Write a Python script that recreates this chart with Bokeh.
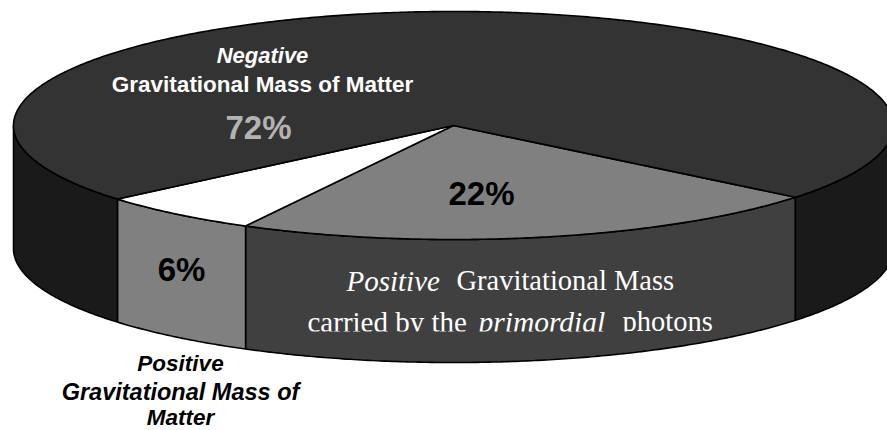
import numpy as np
from bokeh.plotting import figure
from bokeh.models import Range1d
from bokeh.core.properties import value
from bokeh.embed import file_html
from bokeh.resources import INLINE

# ---- data
slice_names = ["Positive photons", "Positive matter", "Negative matter"]
slice_values = [22, 6, 72]
top_colors = ["#808080", "#ffffff", "#333333"]
side_colors = ["#404040", "#808080", "#1a1a1a"]

# ---- pie geometry (screen pixels)
CX, CY, RX, RY, DEPTH = 453.0, 125.0, 440.0, 114.0, 123.0
START_DEG = 39.0

p = figure(width=887, height=430, output_backend="svg", toolbar_location=None,
           x_range=Range1d(0, 887), y_range=Range1d(430, 0),
           min_border=0, margin=(0, 0, 0, 0))
p.axis.visible = False
p.grid.visible = False
p.outline_line_color = None
p.background_fill_color = "#ffffff"
p.border_fill_color = "#ffffff"


def arc(a0, a1):
    t = np.radians(np.linspace(a0, a1, max(int(abs(a1 - a0) * 2), 2)))
    return CX + RX * np.cos(t), CY + RY * np.sin(t)


def wall(a0, a1, color):
    x, y = arc(a0, a1)
    xs = np.concatenate([x, x[::-1]])
    ys = np.concatenate([y, y[::-1] + DEPTH])
    p.patch(xs, ys, fill_color=color, line_color="#000000", line_width=1.6)


edges = START_DEG + np.cumsum([0] + slice_values) * 3.6

# side walls (only the front half t in 0..180 is visible)
for i in range(len(slice_values)):
    a0, a1 = edges[i], edges[i + 1]
    if a1 <= 180:
        wall(a0, a1, side_colors[i])
    else:
        wall(a0, 180, side_colors[i])
        if a1 > 360:
            wall(360, a1, side_colors[i])
# top faces
for i in range(len(slice_values)):
    x, y = arc(edges[i], edges[i + 1])
    p.patch(np.concatenate([[CX], x]), np.concatenate([[CY], y]),
            fill_color=top_colors[i], line_color="#000000", line_width=1.6,
            line_join="miter")

SANS = value("Liberation Sans")
SERIF = value("Liberation Serif")


def label(x, y, s, size, color="#000000", font=SANS, style="bold", align="center"):
    p.text([x], [y], text=[s], text_font=font, text_font_size=f"{size}px",
           text_font_style=style, text_color=color, text_align=align,
           text_baseline="middle")


label(262, 55, "Negative", 22, "#ffffff", style="bold italic")
label(262, 84, "Gravitational Mass of Matter", 22.5, "#ffffff")
label(258, 127, "72%", 33, "#b3b3b3")
label(481, 193, "22%", 33)
label(181, 269, "6%", 33)

label(346, 280, "Positive", 29, "#ffffff", SERIF, "italic", "left")
label(456, 280, "Gravitational Mass", 28.5, "#ffffff", SERIF, "normal", "left")
label(307, 321, "carried by the", 29, "#ffffff", SERIF, "normal", "left")
label(478, 321, "primordial", 29.5, "#ffffff", SERIF, "italic", "left")
label(622, 321, "photons", 28.5, "#ffffff", SERIF, "normal", "left")
# descenders of the second line are cut off in the reference
p.quad(left=[300], right=[640], top=[331], bottom=[339], fill_color="#404040", line_color=None)

label(180, 363, "Positive", 22.5, style="bold italic")
label(180, 391, "Gravitational Mass of", 23.5, style="bold italic")
label(180, 417, "Matter", 22.5, style="bold italic")

open("out.html", "w").write(file_html(p, INLINE))
